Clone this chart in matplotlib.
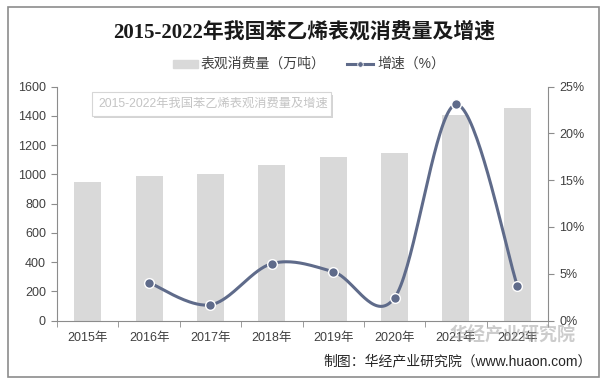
import numpy as np
import matplotlib
matplotlib.use("Agg")
import matplotlib.pyplot as plt
from matplotlib.patches import Rectangle
from matplotlib.ticker import FuncFormatter, FixedLocator

# data
years = ["2015年", "2016年", "2017年", "2018年", "2019年", "2020年", "2021年", "2022年"]
consumption = [946, 989, 1003, 1065, 1120, 1147, 1406, 1456]   # 万吨
growth = [None, 4.05, 1.68, 6.08, 5.22, 2.43, 23.1, 3.72]      # %

BAR_COLOR = "#d9d9d9"
LINE_COLOR = "#5f6b8a"
TEXT_COLOR = "#404040"
W, H = 608, 382

plt.rcParams['font.family'] = ['Liberation Sans', 'Noto Sans CJK SC', 'DejaVu Sans']


def smooth_curve(xs, ys, n=40):
    # excel style smoothed line: bezier segments with catmull-rom control points
    pts = list(zip(xs, ys))
    out_x, out_y = [], []
    for i in range(len(pts) - 1):
        p0 = np.array(pts[i - 1] if i > 0 else pts[i])
        p1 = np.array(pts[i])
        p2 = np.array(pts[i + 1])
        p3 = np.array(pts[i + 2] if i + 2 < len(pts) else pts[i + 1])
        c1 = p1 + (p2 - p0) / 6.0
        c2 = p2 - (p3 - p1) / 6.0
        t = np.linspace(0, 1, n)[:, None]
        seg = ((1 - t) ** 3) * p1 + 3 * ((1 - t) ** 2) * t * c1 + 3 * (1 - t) * t ** 2 * c2 + t ** 3 * p2
        if i > 0:
            seg = seg[1:]
        out_x.extend(seg[:, 0])
        out_y.extend(seg[:, 1])
    return out_x, out_y


def fig_rect(x0, y0, x1, y1, **kw):
    # rectangle given in pixel coords from the top-left corner
    return Rectangle((x0 / W, 1 - y1 / H), (x1 - x0) / W, (y1 - y0) / H,
                     transform=fig.transFigure, **kw)


fig = plt.figure(figsize=(W / 100, H / 100), dpi=100)
fig.patch.set_facecolor("white")

# outer frame
fig.patches.append(fig_rect(8, 7, 599, 377, fill=False, edgecolor="#8c8c8c", linewidth=1.2))

ax = fig.add_axes([57 / W, 1 - 320.5 / H, 491 / W, 233.8 / H])
x = np.arange(len(years))
ax.bar(x, consumption, width=0.44, color=BAR_COLOR, zorder=1)
ax.set_xlim(-0.5, len(years) - 0.5)
ax.set_ylim(0, 1600)
ax.set_yticks(range(0, 1601, 200))
ax.set_xticks(x)
ax.set_xticklabels(years)
ax.xaxis.set_minor_locator(FixedLocator(np.arange(-0.5, len(years), 1.0)))
ax.tick_params(axis="x", which="major", length=0, pad=8, labelsize=9, colors=TEXT_COLOR)
ax.tick_params(axis="x", which="minor", length=4, color="#8c8c8c", direction="out")
ax.tick_params(axis="y", length=4, color="#8c8c8c", labelsize=9, labelcolor=TEXT_COLOR, pad=4)
for s in ["top", "right"]:
    ax.spines[s].set_visible(False)
for s in ["left", "bottom"]:
    ax.spines[s].set_color("#8c8c8c")

ax2 = ax.twinx()
ax2.set_ylim(0, 25)
ax2.set_yticks(range(0, 26, 5))
ax2.yaxis.set_major_formatter(FuncFormatter(lambda v, p: f"{int(v)}%"))
ax2.tick_params(axis="y", length=4, color="#8c8c8c", labelsize=9, labelcolor=TEXT_COLOR, pad=4)
for s in ["top", "left", "bottom"]:
    ax2.spines[s].set_visible(False)
ax2.spines["right"].set_color("#8c8c8c")

gx = [i for i, g in enumerate(growth) if g is not None]
gy = [g for g in growth if g is not None]
sx, sy = smooth_curve(gx, gy)
ax2.plot(sx, sy, color=LINE_COLOR, linewidth=2.2, zorder=3, solid_capstyle="round")
ax2.plot(gx, gy, linestyle="none", marker="o", markersize=7, markerfacecolor=LINE_COLOR,
         markeredgecolor="white", markeredgewidth=1.0, zorder=4)

# title
fig.text(0.5, 1 - 32 / H, "2015-2022年我国苯乙烯表观消费量及增速", ha="center", va="center",
         fontsize=15, fontweight="bold", color="#1a1a1a",
         family=['Liberation Serif', 'Noto Sans CJK SC'])

# legend drawn by hand at the top
ly = 1 - 64 / H
fig.patches.append(fig_rect(173, 60, 198, 68, color=BAR_COLOR))
fig.text(201 / W, ly, "表观消费量（万吨）", ha="left", va="center", fontsize=10, color=TEXT_COLOR)
fig.lines.append(plt.Line2D([347 / W, 373 / W], [ly, ly], transform=fig.transFigure,
                            color=LINE_COLOR, linewidth=2.2))
fig.lines.append(plt.Line2D([360 / W], [ly], transform=fig.transFigure, marker="o",
                            markersize=4, color=LINE_COLOR, markeredgecolor="white",
                            markeredgewidth=0.6))
fig.text(377 / W, ly, "增速（%）", ha="left", va="center", fontsize=10, color=TEXT_COLOR)

# tooltip-like box inside the plot, with a soft shadow
fig.patches.append(fig_rect(94, 95, 333, 118, facecolor="#b8b8b8", edgecolor="none", alpha=0.6))
fig.patches.append(fig_rect(92, 92, 331, 116, facecolor="white", edgecolor="#d6d6d6", linewidth=0.8))
fig.text(98 / W, 1 - 104 / H, "2015-2022年我国苯乙烯表观消费量及增速", ha="left", va="center",
         fontsize=8.8, color="#c4c4c4")

# source and watermark
fig.text(323 / W, 1 - 361 / H, "制图：华经产业研究院（www.huaon.com）", ha="left", va="center",
         fontsize=10, color="#262626")
fig.text(449 / W, 1 - 336 / H, "华经产业研究院", ha="left", va="center",
         fontsize=13, fontweight="bold", color="#9a9a9a", alpha=0.5)

fig.savefig("out.png", dpi=100)
